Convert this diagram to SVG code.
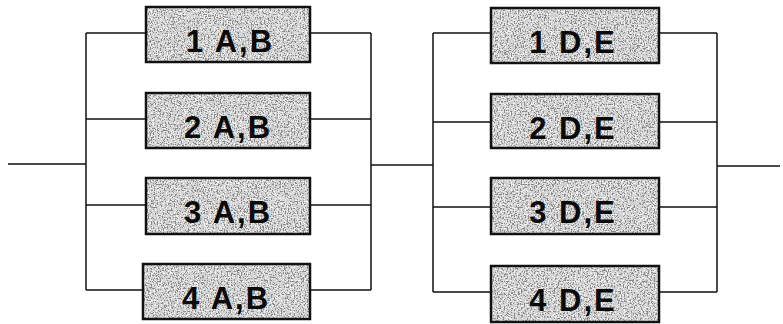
<svg xmlns="http://www.w3.org/2000/svg" width="783" height="324" viewBox="0 0 783 324">
<style>
.box{fill:#8c8c8c;filter:url(#grain)}
.edge{fill:none;stroke:#111;stroke-width:2.5}
.lbl{font-family:"Liberation Sans",Arial,sans-serif;font-weight:bold;font-size:31px;fill:#0a0a0a;text-anchor:middle;letter-spacing:2px}
.wire{stroke:#111;stroke-width:1.5;fill:none}
</style>
<defs>
<filter id="grain" x="0" y="0" width="100%" height="100%">
<feTurbulence type="fractalNoise" baseFrequency="0.7" numOctaves="2" seed="3" result="n"/>
<feColorMatrix in="n" type="matrix" values="0 0 0 0 0  0 0 0 0 0  0 0 0 0 0  1 0 0 0 0" result="a"/>
<feComponentTransfer in="a" result="spk"><feFuncA type="discrete" tableValues="0 0 0.5 0.85 0.3"/></feComponentTransfer>
<feFlood flood-color="#ffffff" result="w"/>
<feComposite in="w" in2="spk" operator="in" result="ws"/>
<feMerge result="m"><feMergeNode in="SourceGraphic"/><feMergeNode in="ws"/></feMerge>
<feComposite in="m" in2="SourceGraphic" operator="in"/>
</filter>
</defs>
<g id="connectors">
<path class="wire" d="M8 164H86M86 33V290M86 33H146M86 119H146M86 205H146M86 290H143M310 33H371M310 119H371M310 205H371M310 290H371M371 33V290M371 165H433"/>
<path class="wire" d="M433 33V292M433 33H491M433 122H491M433 207H491M433 292H491M659 33H717M659 122H717M659 207H717M659 292H717M717 33V292M717 166H780"/>
</g>
<g id="n1AB"><rect class="box" x="146" y="7" width="164" height="55"/><rect class="edge" x="146" y="7" width="164" height="55"/><text class="lbl" x="230" y="52">1 A,B</text></g>
<g id="n2AB"><rect class="box" x="146" y="93" width="164" height="55"/><rect class="edge" x="146" y="93" width="164" height="55"/><text class="lbl" x="228" y="138">2 A,B</text></g>
<g id="n3AB"><rect class="box" x="146" y="178" width="164" height="56"/><rect class="edge" x="146" y="178" width="164" height="56"/><text class="lbl" x="228" y="223">3 A,B</text></g>
<g id="n4AB"><rect class="box" x="143" y="264" width="167" height="55"/><rect class="edge" x="143" y="264" width="167" height="55"/><text class="lbl" x="226" y="309">4 A,B</text></g>
<g id="n1DE"><rect class="box" x="491" y="8" width="168" height="55"/><rect class="edge" x="491" y="8" width="168" height="55"/><text class="lbl" x="573" y="53">1 D,E</text></g>
<g id="n2DE"><rect class="box" x="491" y="94" width="168" height="54"/><rect class="edge" x="491" y="94" width="168" height="54"/><text class="lbl" x="573" y="139">2 D,E</text></g>
<g id="n3DE"><rect class="box" x="491" y="178" width="168" height="56"/><rect class="edge" x="491" y="178" width="168" height="56"/><text class="lbl" x="573" y="223">3 D,E</text></g>
<g id="n4DE"><rect class="box" x="491" y="266" width="168" height="56"/><rect class="edge" x="491" y="266" width="168" height="56"/><text class="lbl" x="573" y="311">4 D,E</text></g>
</svg>
